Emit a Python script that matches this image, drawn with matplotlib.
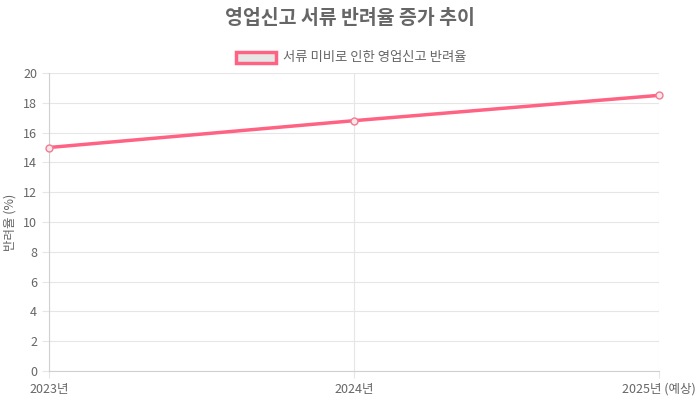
import matplotlib
matplotlib.use('Agg')
import matplotlib.pyplot as plt
from matplotlib.patches import Rectangle

plt.rcParams['font.family'] = ['Noto Sans CJK KR', 'DejaVu Sans']

years = ['2023년', '2024년', '2025년 (예상)']
rates = [15.0, 16.8, 18.5]
series_name = '서류 미비로 인한 영업신고 반려율'
line_color = '#ff6384'
text_color = '#666666'
grid_color = '#e6e6e6'

fig = plt.figure(figsize=(7, 4), dpi=100)
ax = fig.add_axes([0.07, 0.0725, 0.8714, 0.745])

x = list(range(len(years)))
ax.plot(x, rates, color=line_color, linewidth=2.5, marker='o', markersize=5,
        markerfacecolor='#f9e6e9', markeredgecolor='#f07c94', markeredgewidth=1,
        zorder=3, clip_on=False)

ax.set_xlim(0, len(years) - 1)
ax.set_ylim(0, 20)
ax.set_yticks(range(0, 21, 2))
ax.set_xticks(x)
ax.set_xticklabels(years)

ax.grid(True, color=grid_color, linewidth=0.8)
ax.set_axisbelow(True)
for side in ['top', 'right']:
    ax.spines[side].set_visible(False)
for side in ['left', 'bottom']:
    ax.spines[side].set_color('#d0d0d0')
ax.tick_params(axis='both', colors=grid_color, labelcolor=text_color,
               labelsize=9, length=5, width=0.8)
ax.set_ylabel('반려율 (%)', color=text_color, fontsize=9, labelpad=5)

# title and legend header
fig.text(0.5, 1 - 18 / 400, '영업신고 서류 반려율 증가 추이', ha='center', va='center',
         fontsize=14, fontweight='bold', color=text_color)
fig.patches.append(Rectangle((236 / 700, 1 - 63 / 400), 40 / 700, 11 / 400,
                             transform=fig.transFigure, facecolor='#e6e6e6',
                             edgecolor=line_color, linewidth=2.5))
fig.text(283 / 700, 1 - 57 / 400, series_name, ha='left', va='center',
         fontsize=9.6, color=text_color)

fig.savefig('out.png', dpi=100)
